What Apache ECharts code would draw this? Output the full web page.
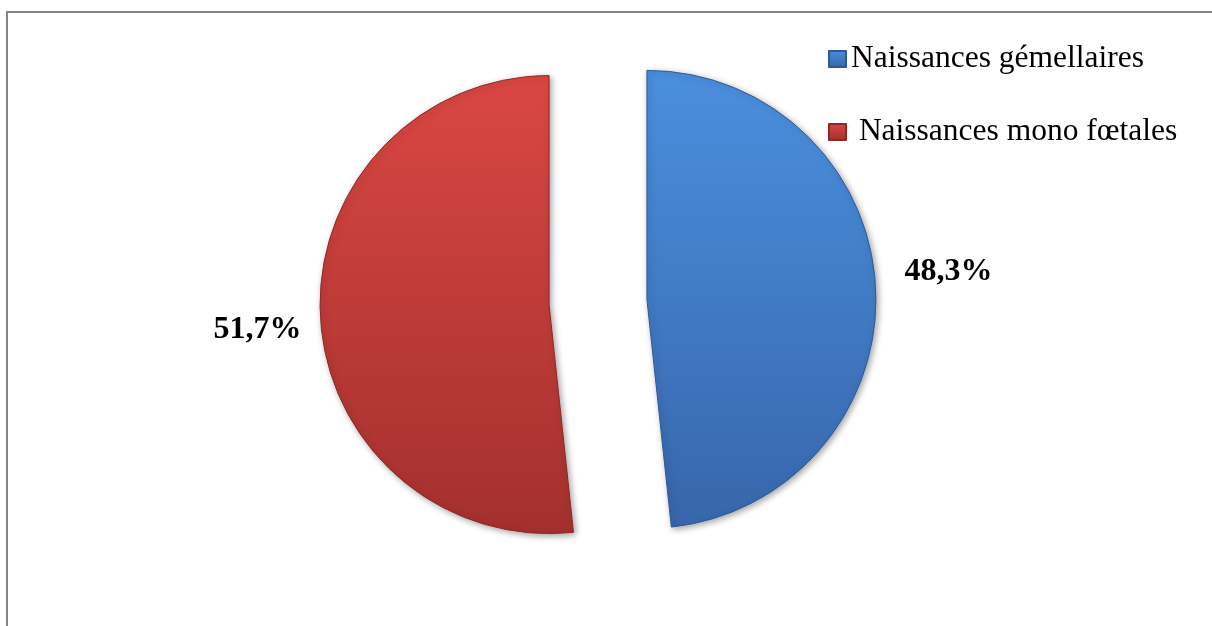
<!DOCTYPE html>
<html>
<head>
<meta charset="utf-8">
<script src="https://cdn.jsdelivr.net/npm/echarts@6/dist/echarts.min.js"></script>
<style>
  html, body { margin: 0; padding: 0; background: #ffffff; }
  #chart { width: 1212px; height: 626px; }
</style>
</head>
<body>
<div id="chart"></div>
<script>
// Birth types: twin vs single births (percent)
const categories = ['Naissances gémellaires', ' Naissances mono fœtales'];
const shares = [48.3, 51.7];

// Vertical gradients for each slice: [top colour, bottom colour, rim colour]
const palette = [
  ['#4b8fde', '#3766ab', '#2d5a96'],
  ['#da4743', '#a3302e', '#8f2826']
];
// Per-slice label placement tweaks: vertical shift and leader run
const labelShiftY = [-15, 12];
const leaderRun = [16, 6];

const grad = (c) => new echarts.graphic.LinearGradient(0, 0, 0, 1, [
  { offset: 0, color: c[0] },
  { offset: 1, color: c[1] }
]);

const pieData = categories.map((name, i) => ({
  name: name,
  value: shares[i],
  selected: true,
  labelLine: { show: false, length: 8, length2: leaderRun[i] },
  itemStyle: {
    color: grad(palette[i]),
    borderColor: palette[i][2],
    borderWidth: 1
  }
}));

const chart = echarts.init(document.getElementById('chart'), null, { renderer: 'canvas' });

chart.setOption({
  backgroundColor: '#ffffff',
  animation: false,
  graphic: [{
    type: 'rect',
    silent: true,
    shape: { x: 7, y: 12, width: 1400, height: 800 },
    style: { fill: 'none', stroke: '#868686', lineWidth: 2 }
  }],
  legend: {
    orient: 'vertical',
    left: 823,
    top: 38,
    itemWidth: 17,
    itemHeight: 16,
    itemGap: 41,
    icon: 'rect',
    selectedMode: false,
    data: categories,
    textStyle: {
      fontFamily: 'Liberation Serif',
      fontSize: 31.5,
      lineHeight: 32,
      color: '#000000'
    }
  },
  series: [{
    type: 'pie',
    center: [598, 302],
    radius: 229,
    startAngle: 90,
    clockwise: true,
    selectedMode: 'multiple',
    selectedOffset: 49,
    emphasis: { disabled: true },
    itemStyle: {
      shadowBlur: 6,
      shadowColor: 'rgba(0,0,0,0.35)',
      shadowOffsetX: 2,
      shadowOffsetY: 2
    },
    label: {
      show: true,
      position: 'outside',
      fontFamily: 'Liberation Serif',
      fontWeight: 'bold',
      fontSize: 32,
      color: '#000000',
      formatter: (p) => p.value.toFixed(1).replace('.', ',') + '%'
    },
    labelLayout: (p) => ({ dy: labelShiftY[p.dataIndex] }),
    labelLine: { show: false, length: 8, length2: 16 },
    data: pieData
  }]
});
</script>
</body>
</html>
